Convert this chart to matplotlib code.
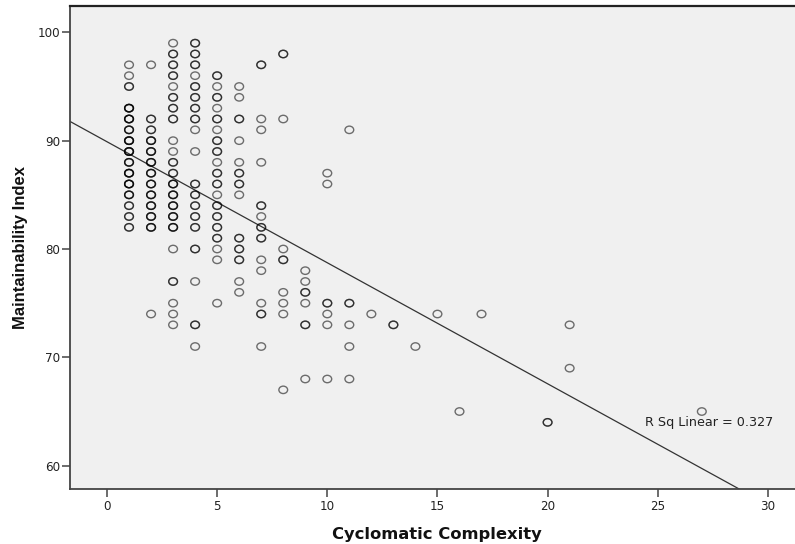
import numpy as np
import matplotlib
matplotlib.use("Agg")
import matplotlib.pyplot as plt
from matplotlib.path import Path
from matplotlib.transforms import Affine2D

# ---- data (x = cyclomatic complexity, y = maintainability index, n = overlapping points)
cc = [1]*15 + [2]*13 + [3]*22 + [4]*19 + [5]*19 + [6]*13 + [7]*14 + [8]*8 + [9]*6 + [10]*6 + [11]*5 + \
     [12, 13, 14, 15, 16, 17, 20, 21, 21, 27]
mi = [97, 96, 95, 93, 92, 91, 90, 89, 88, 87, 86, 85, 84, 83, 82,
      97, 92, 91, 90, 89, 88, 87, 86, 85, 84, 83, 82, 74,
      99, 98, 97, 96, 95, 94, 93, 92, 90, 89, 88, 87, 86, 85, 84, 83, 82, 80, 77, 75, 74, 73,
      99, 98, 97, 96, 95, 94, 93, 92, 91, 89, 86, 85, 84, 83, 82, 80, 77, 73, 71,
      96, 95, 94, 93, 92, 91, 90, 89, 88, 87, 86, 85, 84, 83, 82, 81, 80, 79, 75,
      95, 94, 92, 90, 88, 87, 86, 85, 81, 80, 79, 77, 76,
      97, 92, 91, 88, 84, 83, 82, 81, 79, 78, 75, 74, 71, 71,
      98, 92, 80, 79, 76, 75, 74, 67,
      78, 77, 76, 75, 73, 68,
      87, 86, 75, 74, 73, 68,
      91, 75, 73, 71, 68,
      74, 73, 71, 74, 65, 74, 64, 73, 69, 65]
n = [1, 1, 2, 4, 4, 3, 4, 4, 3, 4, 4, 3, 2, 2, 2,
     1, 2, 2, 3, 3, 3, 3, 3, 3, 3, 3, 3, 1,
     1, 2, 2, 2, 1, 2, 2, 2, 1, 1, 2, 2, 3, 3, 3, 3, 3, 1, 2, 1, 1, 1,
     2, 2, 2, 1, 2, 2, 2, 2, 1, 1, 2, 2, 2, 2, 2, 2, 1, 2, 1,
     2, 1, 2, 1, 2, 1, 2, 2, 1, 2, 2, 1, 2, 2, 2, 2, 1, 1, 1,
     1, 1, 2, 1, 1, 2, 2, 1, 2, 2, 2, 1, 1,
     2, 1, 1, 1, 2, 1, 2, 2, 1, 1, 1, 2, 1, 0,
     2, 1, 1, 2, 1, 1, 1, 1,
     1, 1, 2, 1, 2, 1,
     1, 1, 2, 1, 1, 1,
     1, 2, 1, 1, 1,
     1, 2, 1, 1, 1, 1, 2, 1, 1, 1]

fit_intercept = 89.9
fit_slope = -1.117
r2_label = "R Sq Linear = 0.327"
x_ticks = [0, 5, 10, 15, 20, 25, 30]
y_ticks = [60, 70, 80, 90, 100]

# expand overlapping points
xs = np.repeat(np.array(cc, dtype=float), n)
ys = np.repeat(np.array(mi, dtype=float), n)

fig = plt.figure(figsize=(7.95, 5.44), dpi=100)
W, H = 795, 544
ax = fig.add_axes([70.3 / W, 1 - 489.3 / H, 1 - 70.3 / W, (489.3 - 6) / H])
ax.set_facecolor("#F0F0F0")

# slightly wide ellipse marker (reference is horizontally stretched)
ell = Path.unit_circle().transformed(Affine2D().scale(1.18, 1.0))
ax.scatter(xs, ys, marker=ell, s=6.3**2, facecolors="none", edgecolors="black",
           linewidths=1.0, alpha=0.55, zorder=3)

ax.axline((0, fit_intercept), slope=fit_slope, color="#333333", lw=0.9, zorder=2)

ax.text(30.25, 64.0, r2_label, ha="right", va="center", fontsize=9.2,
        family="DejaVu Sans", color="#222222", zorder=4)

ax.set_xlim(-1.666, 31.23)
ax.set_ylim(57.82, 102.43)
ax.set_xticks(x_ticks)
ax.set_yticks(y_ticks)

for s in ["left", "bottom"]:
    ax.spines[s].set_color("#444444")
    ax.spines[s].set_linewidth(1.3)
ax.spines["top"].set_color("#222222")
ax.spines["top"].set_linewidth(1.6)
ax.spines["right"].set_visible(False)

ax.tick_params(axis="both", direction="out", length=6, width=1.1, color="#444444",
               labelsize=8.6, labelcolor="#222222")
ax.tick_params(axis="y", pad=1)
ax.tick_params(axis="x", pad=2)
for lab in ax.get_xticklabels() + ax.get_yticklabels():
    lab.set_family("DejaVu Sans")

ax.set_xlabel("Cyclomatic Complexity", fontsize=11.8, fontweight="bold",
              family="DejaVu Sans", color="#111111")
ax.xaxis.set_label_coords((437 - 70.3) / (W - 70.3), (489.3 - 535) / 483.3)
ax.xaxis.label.set_va("center")

ax.set_ylabel("Maintainability Index", fontsize=12, fontweight="bold",
              family="Liberation Sans", color="#111111")
ax.yaxis.set_label_coords((20.5 - 70.3) / (W - 70.3), (489.3 - 247.5) / 483.3)
ax.yaxis.label.set_va("center")

fig.savefig("out.png", dpi=100, facecolor="white")
